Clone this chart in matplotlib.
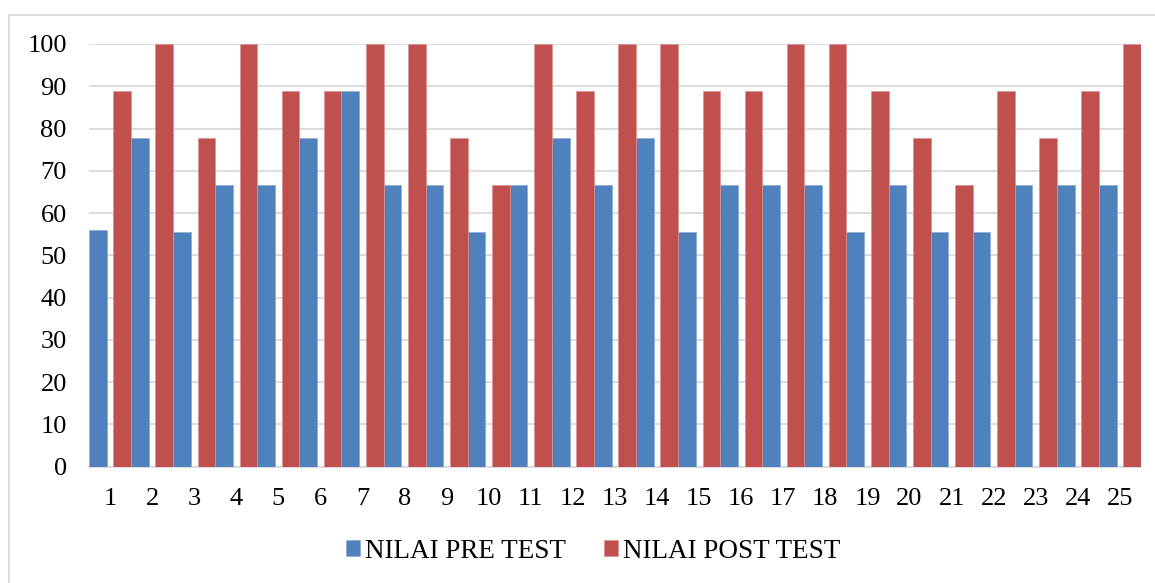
import matplotlib
matplotlib.use("Agg")
import matplotlib.pyplot as plt
import matplotlib.patches as patches
import numpy as np

# scores per student
students = [str(i) for i in range(1, 26)]
pre_test = [56, 77.78, 55.56, 66.67, 66.67, 77.78, 88.89, 66.67, 66.67, 55.56,
            66.67, 77.78, 66.67, 77.78, 55.56, 66.67, 66.67, 66.67, 55.56, 66.67,
            55.56, 55.56, 66.67, 66.67, 66.67]
post_test = [88.89, 100, 77.78, 100, 88.89, 88.89, 100, 100, 77.78, 66.67,
             100, 88.89, 100, 100, 88.89, 88.89, 100, 100, 88.89, 77.78,
             66.67, 88.89, 77.78, 88.89, 100]
y_ticks = list(range(0, 101, 10))

plt.rcParams['font.family'] = ['Liberation Serif', 'DejaVu Serif']

W, H = 1155, 583
fig = plt.figure(figsize=(W / 100, H / 100), dpi=100)
ax = fig.add_axes([89 / W, 1 - 466.7 / H, (1141 - 89) / W, (466.7 - 44) / H])

x = np.arange(len(students))
w = 0.42
gap = 0.16
blue = '#4F81BD'
red = '#C0504D'

ax.bar(x - gap / 2, pre_test, width=w, align='edge', color=blue,
       edgecolor='#8aaad6', linewidth=0.5, label='NILAI PRE TEST', zorder=3)
ax.bar(x + gap / 2, post_test, width=w, align='edge', color=red,
       edgecolor='#dc9290', linewidth=0.5, label='NILAI POST TEST', zorder=3)
# blue bar sits left of center
for p in ax.patches[:len(students)]:
    p.set_x(p.get_x() - w)

ax.set_xlim(-0.5, len(students) - 0.5)
ax.set_ylim(0, 100)
ax.set_yticks(y_ticks)
ax.set_xticks(x)
ax.set_xticklabels(students)
ax.tick_params(axis='both', length=0, labelsize=19)
ax.tick_params(axis='x', pad=15)
ax.tick_params(axis='y', pad=16)
ax.yaxis.grid(True, color='#d9d9d9', linewidth=1.3, zorder=0)
ax.set_axisbelow(True)
for s in ['top', 'right', 'left']:
    ax.spines[s].set_visible(False)
ax.spines['bottom'].set_color('#d9d9d9')
ax.spines['bottom'].set_linewidth(1.3)

# outer chart border
fig.patches.append(patches.Rectangle((8.5 / W, -0.05), 1.1, 1 - 15 / H + 0.05,
                                     transform=fig.transFigure, fill=False,
                                     edgecolor='#d9d9d9', linewidth=1.3))

fig.legend(loc='center', bbox_to_anchor=(593.5 / W, 1 - 551 / H), ncol=2,
           frameon=False, fontsize=19.5, handlelength=0.52, handleheight=0.52,
           handletextpad=0.18, columnspacing=1.4)

fig.savefig('out.png', dpi=100)
